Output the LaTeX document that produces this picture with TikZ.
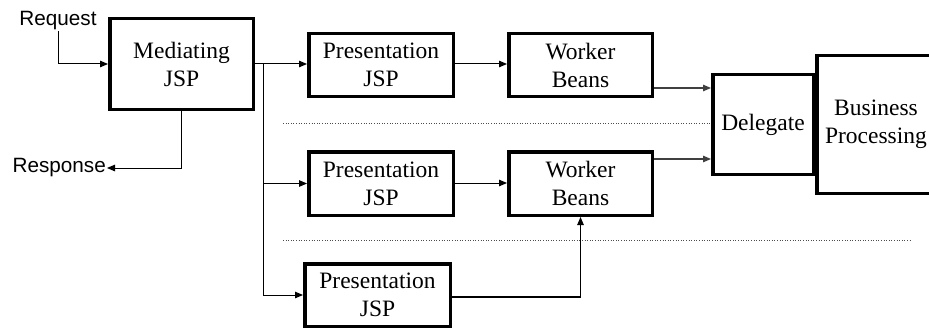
\documentclass[tikz,border=0pt]{standalone}
\usepackage{fontspec}
\setmainfont{Liberation Serif}
\newfontfamily\timesfont{Liberation Serif}
\newfontfamily\arialfont{Liberation Sans}
\usetikzlibrary{arrows.meta}
\begin{document}
\begin{tikzpicture}[x=1pt,y=-1pt,
  box/.style={draw, line width=3.5pt, inner sep=0pt, align=center,
    font=\timesfont\fontsize{23.5}{28}\selectfont},
  lbl/.style={font=\arialfont\fontsize{20.7}{24}\selectfont, inner sep=1pt},
  arr/.style={-{Triangle[length=8pt,width=6.5pt]}, line width=1pt},
  garr/.style={-{Triangle[length=8pt,width=6.5pt]}, line width=1.3pt, draw=black!75},
  sep/.style={dotted, line width=0.6pt, draw=black!70}]
\useasboundingbox (0,0) rectangle (929,329);

\node[box, minimum width=143.5pt, minimum height=90.5pt] (med) at (181.5,64) {Mediating\\JSP};
\node[box, minimum width=144.5pt, minimum height=62.5pt] (pres1) at (381,65) {Presentation\\JSP};
\node[box, minimum width=143.5pt, minimum height=62.5pt] (work1) at (580.5,65) {Worker\\Beans};
\node[box, minimum width=144.5pt, minimum height=63.5pt] (pres2) at (381,183.5) {Presentation\\JSP};
\node[box, minimum width=143.5pt, minimum height=63.5pt] (work2) at (580.5,183.5) {Worker\\Beans};
\node[box, minimum width=145.5pt, minimum height=62.5pt] (pres3) at (377.5,295) {Presentation\\JSP};
\node[box, minimum width=118.5pt, minimum height=137.5pt] (bus) at (876,124.5) {Business\\Processing};
\node[box, minimum width=100.5pt, minimum height=99.5pt] (del) at (763,124.5) {Delegate};

\node[lbl, anchor=base] (req) at (58,26) {Request};
\node[lbl, anchor=east] (resp) at (107,168) {Response};

\draw[arr] (req.south) |- (med.west);
\draw[arr] (med.south) |- (resp.east);

\coordinate (split) at (263,64);
\draw[arr] (med.east) -- (med.east -| pres1.west);
\draw[arr] (split) |- (pres3.west);
\draw[arr] (split |- pres2.west) -- (pres2.west);

\draw[arr] (pres1.east |- 0,64) -- (work1.west |- 0,64);
\draw[arr] (pres2.east |- 0,183) -- (work2.west |- 0,183);

\coordinate (c3) at (work2.south |- pres3.east);
\draw[line width=2.2pt] (pres3.east |- 0,297) -- (c3 |- 0,297);
\draw[arr, line width=1pt] (c3 |- 0,297) -- (work2.south);

\draw[garr] (work1.east |- 0,88) -- (del.west |- 0,88);
\draw[garr] (work2.east |- 0,159) -- (del.west |- 0,159);

\draw[sep] (283,123) -- (711,123);
\draw[sep] (283,240) -- (911,240);
\end{tikzpicture}
\end{document}
